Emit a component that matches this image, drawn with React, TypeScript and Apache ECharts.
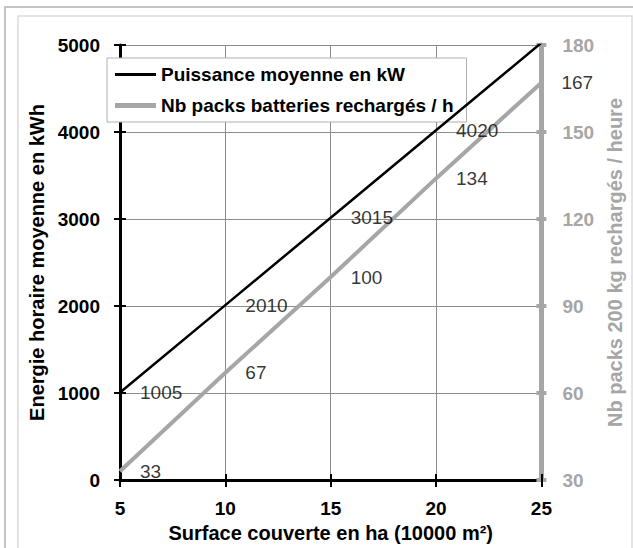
import React, { useEffect, useRef } from "react";
import * as echarts from "echarts";

const surfaces = [5, 10, 15, 20, 25];
const puissance = [1005, 2010, 3015, 4020, 5025];
const packs = [33, 67, 100, 134, 167];
const puissanceLabelled = [true, true, true, true, false];
const packsLabelled = [true, true, true, true, true];

const FONT = "'Liberation Sans', Arial, sans-serif";
const GRAY = "#a6a6a6";
const GRID = "#8c8c8c";

export default function App() {
  const ref = useRef<HTMLDivElement>(null);
  useEffect(() => {
    document.body.style.margin = "0";
    document.body.style.overflow = "hidden";
    if (!ref.current) return;
    const chart = echarts.init(ref.current, undefined, { renderer: "svg" });
    const plain = (v: number) => String(v);
    const dataLabel = {
      show: true,
      position: "right",
      distance: 20,
      fontFamily: FONT,
      fontSize: 19,
      color: "#000",
      formatter: (p: any) => String(p.value[1]),
    };
    chart.setOption({
      animation: false,
      backgroundColor: "#fff",
      textStyle: { fontFamily: FONT },
      graphic: [
        { type: "rect", shape: { x: 5, y: 7, width: 700, height: 600 }, style: { fill: "none", stroke: "#c4c4c4", lineWidth: 2 }, z: -10 },
        { type: "rect", shape: { x: 18, y: 16, width: 614, height: 600 }, style: { fill: "none", stroke: "#dcdcdc", lineWidth: 1.5 }, z: -10 },
      ],
      grid: { left: 120, right: 88, top: 45, bottom: 68 },
      legend: {
        left: 107,
        top: 58,
        orient: "vertical",
        itemWidth: 41,
        itemHeight: 18,
        itemGap: 12,
        symbolKeepAspect: true,
        padding: [7, 13, 7, 8],
        backgroundColor: "#fff",
        borderColor: "#b0b0b0",
        borderWidth: 1,
        textStyle: { fontFamily: FONT, fontSize: 19, fontWeight: "bold", color: "#000" },
        data: [
          { name: "Puissance moyenne en kW", icon: "path://M0 0H41V3H0Z" },
          { name: "Nb packs batteries rechargés / h", icon: "path://M0 0H41V5H0Z" },
        ],
      },
      xAxis: [
        {
          type: "value",
          min: 5,
          max: 25,
          interval: 5,
          name: "Surface couverte en ha (10000 m²)",
          nameLocation: "middle",
          nameGap: 39,
          nameTextStyle: { fontFamily: FONT, fontSize: 20, fontWeight: "bold", color: "#000" },
          axisLine: { show: true, lineStyle: { color: "#000", width: 3 } },
          axisTick: { show: true, length: 7, lineStyle: { color: "#000", width: 2 } },
          axisLabel: { margin: 19, fontFamily: FONT, fontSize: 19, fontWeight: "bold", color: "#000", formatter: plain },
          splitLine: { show: true, lineStyle: { color: GRID, width: 1 } },
        },
        {
          type: "value",
          min: 5,
          max: 25,
          interval: 5,
          position: "bottom",
          axisLine: { show: false },
          axisTick: { show: true, inside: true, length: 6, lineStyle: { color: "#000", width: 2 } },
          axisLabel: { show: false },
          splitLine: { show: false },
        },
      ],
      yAxis: [
        {
          type: "value",
          min: 0,
          max: 5000,
          interval: 1000,
          position: "left",
          name: "Energie horaire moyenne en kWh",
          nameLocation: "middle",
          nameGap: 70,
          nameTextStyle: { fontFamily: FONT, fontSize: 20, fontWeight: "bold", color: "#000" },
          axisLine: { show: true, lineStyle: { color: "#000", width: 3 } },
          axisTick: { show: true, length: 6, lineStyle: { color: "#000", width: 2 } },
          axisLabel: { margin: 20, fontFamily: FONT, fontSize: 19, fontWeight: "bold", color: "#000", formatter: plain },
          splitLine: { show: true, lineStyle: { color: GRID, width: 1 } },
        },
        {
          type: "value",
          min: 30,
          max: 180,
          interval: 30,
          position: "right",
          name: "Nb packs 200 kg rechargés / heure",
          nameLocation: "middle",
          nameGap: 56,
          nameRotate: 90,
          nameTextStyle: { fontFamily: FONT, fontSize: 20, fontWeight: "bold", color: GRAY },
          axisLine: { show: true, lineStyle: { color: GRAY, width: 5 } },
          axisTick: { show: true, length: 5, lineStyle: { color: GRAY, width: 4 } },
          axisLabel: { margin: 21, fontFamily: FONT, fontSize: 19, fontWeight: "bold", color: GRAY, formatter: plain },
          splitLine: { show: false },
        },
        {
          type: "value",
          min: 0,
          max: 5000,
          interval: 1000,
          position: "left",
          axisLine: { show: false },
          axisTick: { show: true, inside: true, length: 6, lineStyle: { color: "#000", width: 2 } },
          axisLabel: { show: false },
          splitLine: { show: false },
        },
        {
          type: "value",
          min: 30,
          max: 180,
          interval: 30,
          position: "right",
          axisLine: { show: false },
          axisTick: { show: true, inside: true, length: 5, lineStyle: { color: GRAY, width: 4 } },
          axisLabel: { show: false },
          splitLine: { show: false },
        },
      ],
      series: [
        {
          name: "Puissance moyenne en kW",
          type: "line",
          xAxisIndex: 0,
          yAxisIndex: 0,
          symbol: "none",
          color: "#000",
          lineStyle: { color: "#000", width: 2.5 },
          data: surfaces.map((x, i) => [x, puissance[i]]),
          z: 5,
        },
        {
          name: "Nb packs batteries rechargés / h",
          type: "line",
          xAxisIndex: 0,
          yAxisIndex: 1,
          symbol: "none",
          color: GRAY,
          lineStyle: { color: GRAY, width: 4 },
          data: surfaces.map((x, i) => [x, packs[i]]),
          z: 4,
        },
        {
          name: "labels-puissance",
          type: "scatter",
          xAxisIndex: 0,
          yAxisIndex: 0,
          symbolSize: 0,
          silent: true,
          data: surfaces.map((x, i) => [x, puissance[i]]).filter((_, i) => puissanceLabelled[i]),
          label: dataLabel,
          z: 6,
        },
        {
          name: "labels-packs",
          type: "scatter",
          xAxisIndex: 0,
          yAxisIndex: 1,
          symbolSize: 0,
          silent: true,
          data: surfaces.map((x, i) => [x, packs[i]]).filter((_, i) => packsLabelled[i]),
          label: dataLabel,
          z: 6,
        },
      ],
    });
    return () => chart.dispose();
  }, []);
  return <div ref={ref} style={{ width: 633, height: 548, position: "absolute", left: 0, top: 0 }} />;
}
